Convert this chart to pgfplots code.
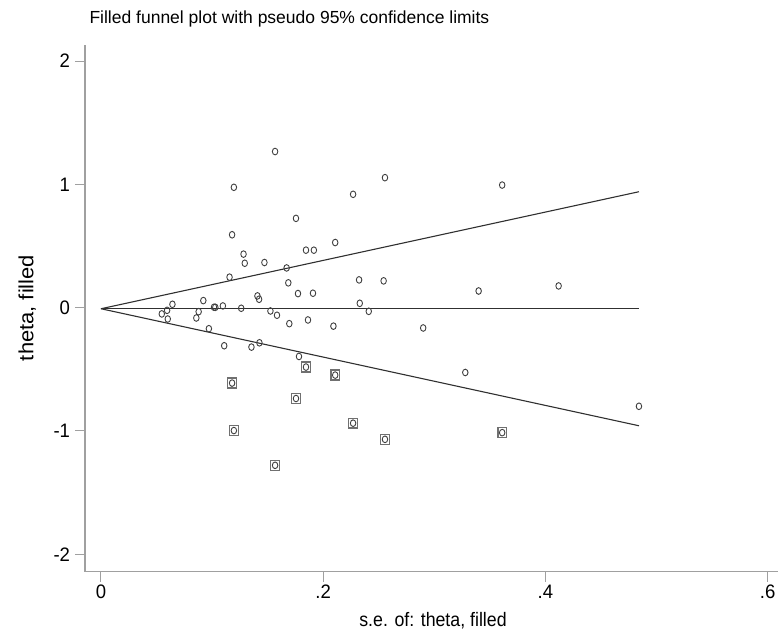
\documentclass[border=0pt]{standalone}
\usepackage{fontspec}
\setmainfont{Liberation Sans}
\newfontfamily\condfont[FakeStretch=0.91]{Liberation Sans}
\newfontfamily\tickfont[FakeStretch=0.95]{Liberation Sans}
\newfontfamily\widefont[FakeStretch=1.07]{Liberation Sans}
\usepackage{pgfplots}
\pgfplotsset{compat=1.18}
\definecolor{axisgray}{HTML}{A0A0A0}
\definecolor{markgray}{HTML}{404040}
\definecolor{linegray}{HTML}{303030}
\definecolor{sqgray}{HTML}{707070}
\pgfplotstableread{
x y
0.1567 1.266
0.1196 0.976
0.1755 0.724
0.1180 0.591
0.2108 0.528
0.1845 0.466
0.1916 0.466
0.1283 0.434
0.1294 0.360
0.1471 0.366
0.1671 0.322
0.1157 0.247
0.1686 0.201
0.1773 0.114
0.1908 0.117
0.1408 0.095
0.1423 0.068
0.0643 0.027
0.0921 0.057
0.1017 0.003
0.1029 0.003
0.1097 0.014
0.1262 -0.005
0.1525 -0.027
0.1584 -0.062
0.1695 -0.130
0.1863 -0.100
0.2092 -0.150
0.0595 -0.022
0.0547 -0.051
0.0601 -0.092
0.0879 -0.033
0.0858 -0.084
0.0971 -0.171
0.1109 -0.309
0.1354 -0.320
0.1426 -0.285
0.1782 -0.396
0.3279 -0.526
0.2556 1.054
0.2269 0.919
0.3611 0.994
0.2323 0.225
0.2544 0.217
0.3399 0.135
0.4119 0.176
0.2329 0.035
0.2410 -0.030
0.2900 -0.165
0.4842 -0.800
}\observed
\pgfplotstableread{
x y
0.1180 -0.612
0.1196 -0.997
0.1567 -1.279
0.1755 -0.737
0.1845 -0.482
0.2108 -0.547
0.2269 -0.937
0.2556 -1.068
0.3611 -1.014
}\filled
\begin{document}
\begin{tikzpicture}
\begin{axis}[
  scale only axis, width=692.6bp, height=526.5bp,
  xmin=-0.0144, xmax=0.609, ymin=-2.14, ymax=2.13,
  axis x line*=bottom, axis y line*=left,
  axis line style={axisgray, line width=1.3bp, -},
  xtick={0,0.2,0.4,0.6}, xticklabels={0,.2,.4,.6},
  ytick={-2,-1,0,1,2}, yticklabels={-2,-1,0,1,2},
  tick align=outside, major tick length=10bp,
  tick style={axisgray, line width=1bp},
  ticklabel style={font=\tickfont\fontsize{19.5bp}{21bp}\selectfont},
  yticklabel style={xshift=-1.5bp},
  clip=false,
]
\addplot[linegray, line width=1.1bp] coordinates {(0,-0.009) (0.4842,-0.009)};
\addplot[linegray, line width=1.1bp] coordinates {(0,-0.009) (0.4842,0.940)};
\addplot[linegray, line width=1.1bp] coordinates {(0,-0.009) (0.4842,-0.958)};
\addplot[only marks, mark=square, mark size=4.3bp, sqgray, mark options={line width=1.3bp, yscale=1.15}] table {\filled};
\addplot[only marks, mark=o, mark size=2.9bp, markgray, mark options={line width=0.9bp, xscale=0.95, yscale=1.15}] table {\observed};
\addplot[only marks, mark=o, mark size=2.9bp, markgray, mark options={line width=0.9bp, xscale=0.95, yscale=1.15}] table {\filled};
\end{axis}
\node[anchor=base west, font=\fontsize{17.5bp}{20bp}\selectfont] at (1bp,547.5bp) {Filled funnel plot with pseudo 95\% confidence limits};
\node[anchor=base, font=\condfont\fontsize{19.5bp}{21bp}\selectfont] at (348bp,-54.5bp) {s.e. of: theta, filled};
\node[anchor=base, rotate=90, font=\widefont\fontsize{20.5bp}{22bp}\selectfont] at (-51.7bp,263.5bp) {theta, filled};
\pgfresetboundingbox
\path[use as bounding box] (-85bp,-58.5bp) rectangle (693bp,571.5bp);
\end{tikzpicture}
\end{document}
